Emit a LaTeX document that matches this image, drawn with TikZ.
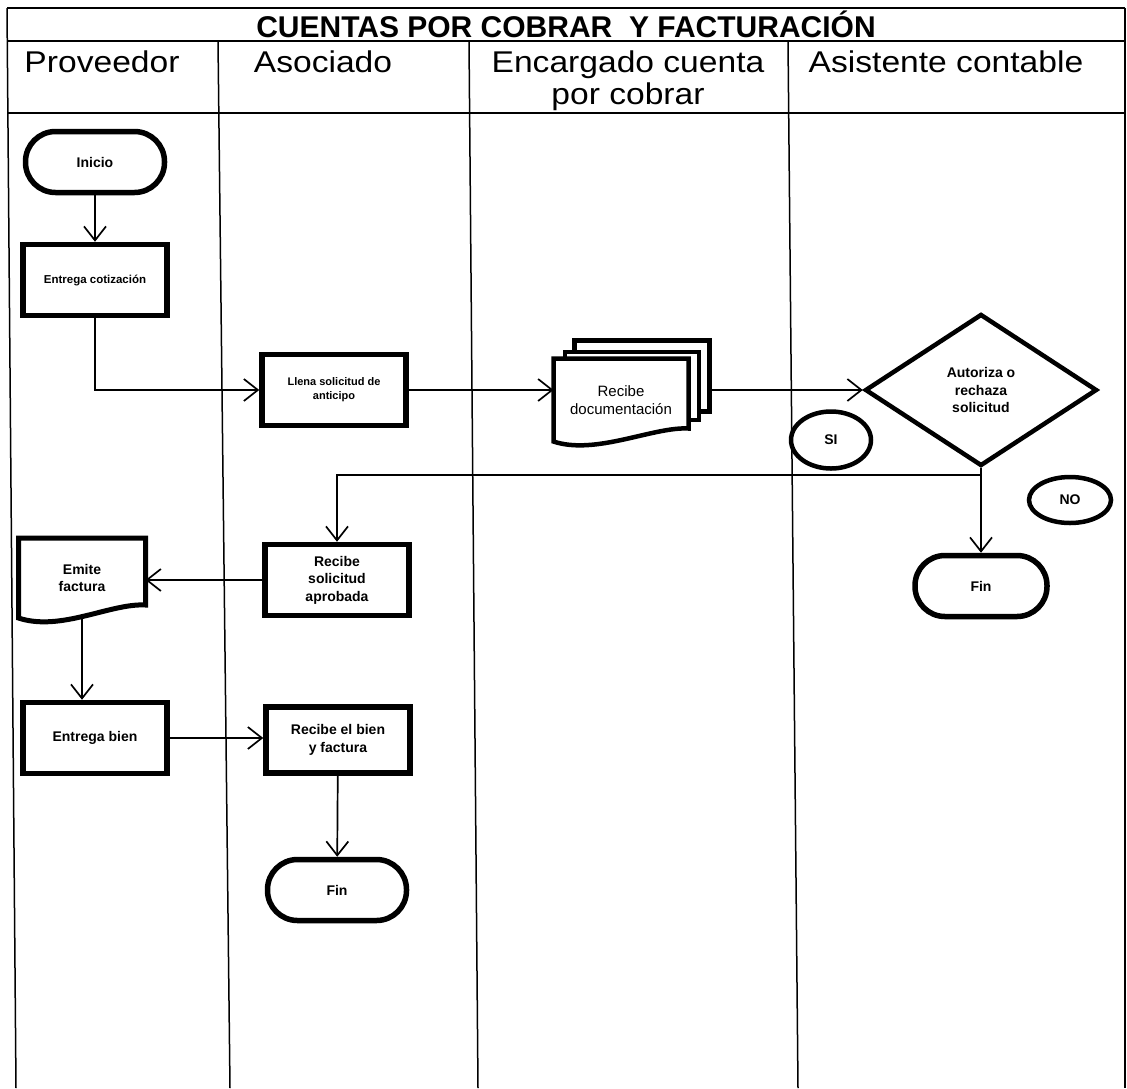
\documentclass[tikz,border=0pt]{standalone}
\usepackage{fontspec}
\setmainfont{Liberation Sans}
\newfontfamily\headfont[FakeStretch=1.12]{Liberation Sans}
\usetikzlibrary{shapes.geometric, arrows.meta, calc, positioning}

% document symbol: straight top and sides, wavy bottom
\newcommand{\docframe}[1]{(#1.north west) -- (#1.north east) -- ($(#1.south east)+(0,-13)$) .. controls ($(#1.south east)+(-35,-15)$) and ($(#1.south west)+(42,14)$) .. (#1.south west) -- cycle}

\tikzset{
  lane/.style={line width=1.5pt},
  flow/.style={line width=1.7pt, -{Straight Barb[length=14pt,width=22pt,line width=1.7pt]}},
  boxtext/.style={font=\bfseries\fontsize{14}{17.5}\selectfont, align=center},
  process/.style={boxtext, draw, line width=5.5pt, minimum width=144pt, minimum height=71pt, inner sep=2pt},
  terminal/.style={boxtext, draw, line width=5.5pt, rounded corners=30pt, minimum width=139pt, minimum height=61pt},
  decision/.style={boxtext, draw, diamond, line width=4.5pt, minimum width=232pt, minimum height=152pt, inner sep=0pt},
  answer/.style={boxtext, draw, ellipse, line width=4.5pt, inner sep=0pt},
  docbox/.style={boxtext, minimum width=127pt, minimum height=80pt, outer sep=0pt, inner sep=0pt},
  heading/.style={font=\headfont\fontsize{30}{32}\selectfont, align=center, inner sep=0pt, anchor=base},
}

\begin{document}
\begin{tikzpicture}[x=1pt, y=-1pt]
\fill[white] (0,0) rectangle (1127,1088);
\useasboundingbox (0,0) rectangle (1127,1088);

% swimlane frame
\draw[lane] (7,8) -- (1125,8);
\draw[lane] (7,41) -- (1125,41);
\draw[lane] (7,113) -- (1125,113);
\draw[lane] (7,8) -- (16,1088);
\draw[lane] (1125,8) -- (1125,1088);
\foreach \xa/\xb in {218/230, 469/478, 788/798}
  \draw[lane] (\xa,41) -- (\xb,1088);

% headings
\node[heading, font=\bfseries\fontsize{30}{30}\selectfont] (title) at (566,37) {CUENTAS POR COBRAR\ \ Y FACTURACIÓN};
\node[heading] (hprov) at (102,72) {Proveedor};
\node[heading] (hasoc) at (323,72) {Asociado};
\node[heading] (henc) at (628,104) {Encargado cuenta\\por cobrar};
\node[heading] (hasis) at (946,72) {Asistente contable};

% Proveedor / Asociado, first part
\node[terminal] (inicio) at (95,162) {Inicio};
\node[process, font=\bfseries\fontsize{11.5}{14}\selectfont] (cotiz) at (95,280) {Entrega cotización};
\node[process, font=\bfseries\fontsize{11}{14}\selectfont] (llena) at (334,390) {Llena solicitud de\\anticipo};

% stack of documents
\node[draw, fill=white, line width=4.5pt, minimum width=135pt, minimum height=71pt] (recdoc3) at (642,376) {};
\node[draw, fill=white, line width=4.5pt, minimum width=134pt, minimum height=68pt] (recdoc2) at (632,386) {};
\node[docbox, fill=white, font=\fontsize{15}{18}\selectfont, minimum width=135pt, minimum height=83pt] (recdoc) at (621,400) {Recibe\\documentación};
\draw[line width=4.5pt] \docframe{recdoc};

% decision
\node[decision] (dec) at (981,390) {Autoriza o\\rechaza\\solicitud};
\node[answer, minimum width=80pt, minimum height=57pt] (si) at (831,440) {SI};
\node[answer, minimum width=82pt, minimum height=46pt] (no) at (1070,500) {NO};
\node[terminal, minimum width=132pt] (fin1) at (981,586) {Fin};

% second part
\node[process] (recsol) at (337,580) {Recibe\\solicitud\\aprobada};
\node[docbox] (emite) at (82,578) {Emite\\factura};
\draw[line width=5pt] \docframe{emite};
\node[process] (bien) at (95,738) {Entrega bien};
\node[process, minimum height=66pt] (recbien) at (338,740) {Recibe el bien\\y factura};
\node[terminal] (fin2) at (337,890) {Fin};

% connectors
\draw[flow] (inicio) -- (cotiz);
\draw[flow] (cotiz.south) |- (llena.west);
\draw[flow] (llena.east) -- (llena.east -| recdoc.west);
\draw[flow] (dec.west -| recdoc3.east) -- (dec.west);
\coordinate (br) at ($(dec.south)+(0,7)$);
\draw[flow] (dec.south) -- (fin1.north);
\draw[flow] (br) -| (recsol.north);
\draw[flow] (recsol.west) -- (recsol.west -| emite.east);
\draw[flow] (emite.south) -- (emite.south |- bien.north);
\draw[flow] (bien.east) -- (bien.east -| recbien.west);
\draw[flow] (recbien) -- (fin2);
\end{tikzpicture}
\end{document}
